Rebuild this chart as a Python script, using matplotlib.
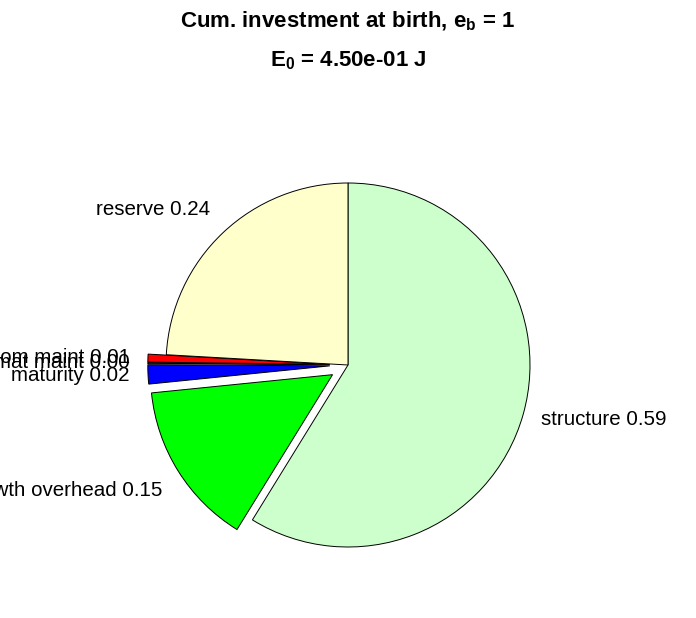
import matplotlib.pyplot as plt

plt.rcParams['font.family'] = ['Liberation Sans', 'DejaVu Sans']
plt.rcParams['mathtext.fontset'] = 'custom'
plt.rcParams['mathtext.rm'] = 'Liberation Sans'
plt.rcParams['mathtext.bf'] = 'Liberation Sans:bold'

# fractions of cumulative investment, clockwise from the top
noms = ['structure', 'growth overhead', 'maturity', 'mat maint', 'som maint', 'reserve']
fractions = [0.588, 0.146, 0.017, 0.001, 0.007, 0.241]
couleurs = ['#CCFFCC', '#00FF00', '#0000FF', '#FF00FF', '#FF0000', '#FFFFCC']
eclate = [0, 0.1, 0.1, 0.1, 0.1, 0]

etiquettes = [f"{n} {v:.2f}" for n, v in zip(noms, fractions)]

fig = plt.figure(figsize=(6.96, 6.18), dpi=100)
# axe carre de 500 px centre sur le centre du camembert
ax = fig.add_axes([98 / 696, 3 / 618, 500 / 696, 500 / 618])

wedges, textes = ax.pie(fractions, labels=etiquettes, colors=couleurs, explode=eclate,
                        startangle=90, counterclock=False, labeldistance=1.1, radius=1,
                        wedgeprops=dict(edgecolor='black', linewidth=0.7),
                        textprops=dict(fontsize=14.8))
for t in textes:
    x, y = t.get_position()
    if y > 0.5:
        t.set_va('bottom')
    elif y < -0.5:
        t.set_va('top')

# rayon de 182 px dans un axe de 500 px
lim = 250 / 182
ax.set_xlim(-lim, lim)
ax.set_ylim(-lim, lim)
ax.axis('off')

fig.text(0.5, 1 - 21 / 618, r"Cum. investment at birth, $\mathbf{e_b}$ = 1",
         ha='center', va='center', fontsize=16, fontweight='bold')
fig.text(0.5, 1 - 61 / 618, r"$\mathbf{E_0}$ = 4.50e-01 J",
         ha='center', va='center', fontsize=16, fontweight='bold')

fig.savefig('out.png', dpi=100)
